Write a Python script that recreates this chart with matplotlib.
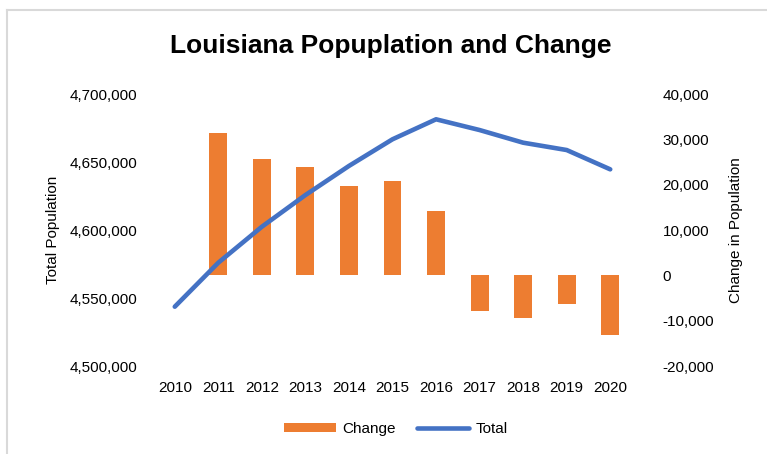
import matplotlib
matplotlib.use("Agg")
import matplotlib.pyplot as plt
from matplotlib.ticker import FuncFormatter
from matplotlib.patches import Patch
from matplotlib.lines import Line2D

years = ["2010", "2011", "2012", "2013", "2014", "2015", "2016", "2017", "2018", "2019", "2020"]
total = [4543600, 4575960, 4602400, 4625700, 4647100, 4666700, 4681400, 4673500, 4664200, 4658800, 4644600]
change = [None, 31500, 25700, 23870, 19740, 20910, 14160, -7830, -9440, -6290, -13130]

plt.rcParams['font.family'] = ['Liberation Sans', 'DejaVu Sans']

W, H = 767, 454
fig = plt.figure(figsize=(W / 100, H / 100), dpi=100)

ax = fig.add_axes([153 / W, 1 - 366 / H, (632 - 153) / W, (366 - 94) / H])
ax2 = ax.twinx()

x = list(range(len(years)))
bx = [i for i, v in zip(x, change) if v is not None]
bv = [v for v in change if v is not None]
ax2.bar(bx, bv, width=0.41, color="#ED7D31", zorder=1)
ax.plot(x, total, color="#4472C4", lw=3.3, solid_capstyle="round", solid_joinstyle="round", zorder=3)

ax.set_zorder(ax2.get_zorder() + 1)
ax.patch.set_visible(False)

ax.set_xlim(-0.5, len(years) - 0.5)
ax.set_ylim(4500000, 4700000)
ax2.set_ylim(-20000, 40000)
ax.set_yticks(range(4500000, 4700001, 50000))
ax2.set_yticks(range(-20000, 40001, 10000))
ax.set_xticks(x)
ax.set_xticklabels(years)

fmt = FuncFormatter(lambda v, p: f"{int(v):,}")
ax.yaxis.set_major_formatter(fmt)
ax2.yaxis.set_major_formatter(fmt)

for a in (ax, ax2):
    for s in a.spines.values():
        s.set_visible(False)
    a.tick_params(length=0, labelsize=11, colors="#000000")
ax.tick_params(axis="y", pad=11)
ax2.tick_params(axis="y", pad=22)
ax.tick_params(axis="x", pad=11)

ax.set_ylabel("Total Population", fontsize=11, labelpad=7)
ax2.set_ylabel("Change in Population", fontsize=11, labelpad=11)

fig.text(391 / W, 1 - 46 / H, "Louisiana Popuplation and Change", ha="center", va="center",
         fontsize=19, fontweight="bold")

handles = [Patch(facecolor="#ED7D31", edgecolor="none"),
           Line2D([0], [0], color="#4472C4", lw=3.3, solid_capstyle="round")]
fig.legend(handles, ["Change", "Total"], loc="center", bbox_to_anchor=(396 / W, 1 - 429 / H),
           ncol=2, frameon=False, fontsize=11, handlelength=3.4, handleheight=0.55,
           handletextpad=0.4, columnspacing=1.4)

# chart area border
fig.add_artist(Line2D([7 / W, 7 / W], [0, 1 - 10 / H], color="#D9D9D9", lw=1.5, transform=fig.transFigure))
fig.add_artist(Line2D([7 / W, 1], [1 - 10 / H, 1 - 10 / H], color="#D9D9D9", lw=1.5, transform=fig.transFigure))

fig.savefig("out.png", dpi=100)
